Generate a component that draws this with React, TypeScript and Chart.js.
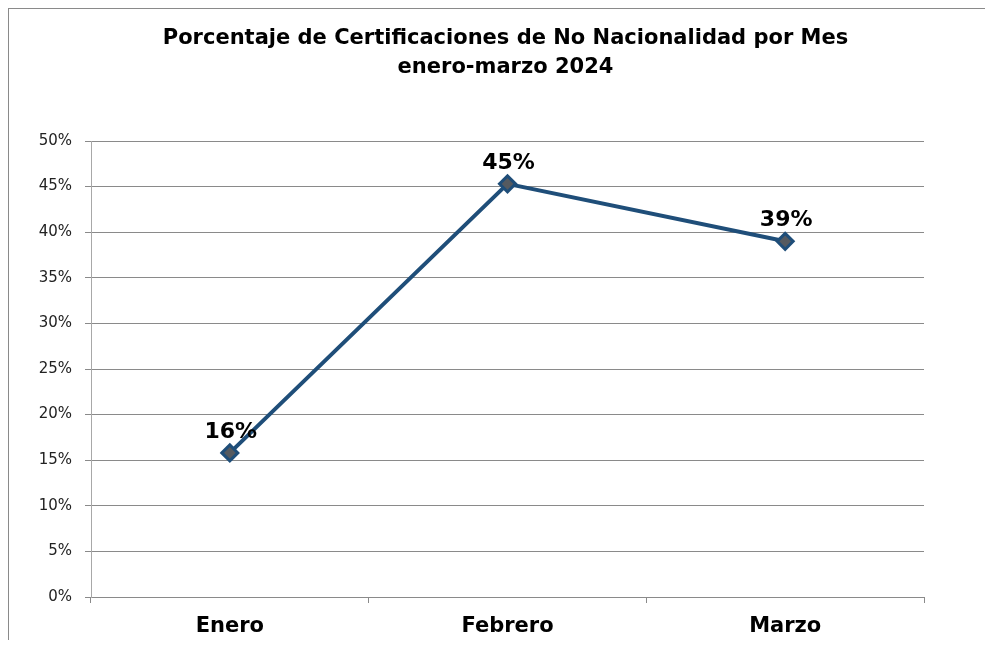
import React, { useEffect, useRef } from "react";
import { Chart, registerables } from "chart.js";

Chart.register(...registerables);

const titleLines = ["Porcentaje de Certificaciones de No Nacionalidad por Mes", "enero-marzo 2024"];
const months = ["Enero", "Febrero", "Marzo"];
const percentages = [0.158, 0.453, 0.39];
const dataLabels = ["16%", "45%", "39%"];

const FONT = "'DejaVu Sans', Verdana, sans-serif";

const titlePlugin = {
  id: "customTitle",
  afterDraw(chart: any) {
    const ctx = chart.ctx;
    const area = chart.chartArea;
    ctx.save();
    ctx.fillStyle = "#000";
    ctx.font = `bold 21px ${FONT}`;
    ctx.textAlign = "center";
    ctx.textBaseline = "middle";
    const cx = (area.left + area.right) / 2 - 2;
    ctx.fillText(titleLines[0], cx, 30);
    ctx.fillText(titleLines[1], cx, 59);
    ctx.restore();
  },
};

const labelPlugin = {
  id: "pointLabels",
  afterDatasetsDraw(chart: any) {
    const ctx = chart.ctx;
    const meta = chart.getDatasetMeta(0);
    ctx.save();
    ctx.fillStyle = "#000";
    ctx.font = `bold 22px ${FONT}`;
    ctx.textAlign = "center";
    ctx.textBaseline = "middle";
    meta.data.forEach((pt: any, i: number) => {
      ctx.fillText(dataLabels[i], pt.x + 1, pt.y - 21);
    });
    ctx.restore();
  },
};

export default function App() {
  const ref = useRef<HTMLCanvasElement | null>(null);
  useEffect(() => {
    if (!ref.current) return;
    const chart = new Chart(ref.current, {
      type: "line",
      data: {
        labels: months,
        datasets: [
          {
            data: percentages,
            borderColor: "#1F4E79",
            borderWidth: 4,
            pointStyle: "rectRot",
            pointRadius: 8,
            pointBorderWidth: 3,
            pointBackgroundColor: "#555a60",
            pointBorderColor: "#1F4E79",
            tension: 0,
          },
        ],
      },
      options: {
        responsive: false,
        animation: false,
        layout: { padding: { top: 132, right: 69, left: 0, bottom: 0 } },
        plugins: { legend: { display: false }, tooltip: { enabled: false }, title: { display: false } },
        scales: {
          x: {
            type: "category",
            offset: true,
            grid: {
              offset: true,
              drawOnChartArea: false,
              drawTicks: true,
              tickLength: 6,
              color: "#8a8a8a",
            },
            border: { color: "#8a8a8a" },
            ticks: {
              color: "#000",
              font: { family: FONT, size: 21, weight: "bold" },
              padding: 11,
            },
            afterFit(scale: any) {
              scale.height = 43;
            },
          },
          y: {
            min: 0,
            max: 0.5,
            grid: { color: "#8a8a8a", tickLength: 6 },
            border: { color: "#a8a8a8" },
            ticks: {
              stepSize: 0.05,
              color: "#222",
              font: { family: FONT, size: 15 },
              padding: 13,
              callback: (v: any) => `${Math.round(Number(v) * 100)}%`,
            },
            afterFit(scale: any) {
              scale.width = 82;
            },
          },
        },
      },
      plugins: [titlePlugin, labelPlugin],
    });
    return () => chart.destroy();
  }, []);

  return (
    <div
      style={{
        width: 984,
        height: 631,
        borderTop: "1px solid #8a8a8a",
        borderLeft: "1px solid #8a8a8a",
        background: "#fff",
      }}
    >
      <canvas ref={ref} width={984} height={631} style={{ display: "block" }} />
    </div>
  );
}
